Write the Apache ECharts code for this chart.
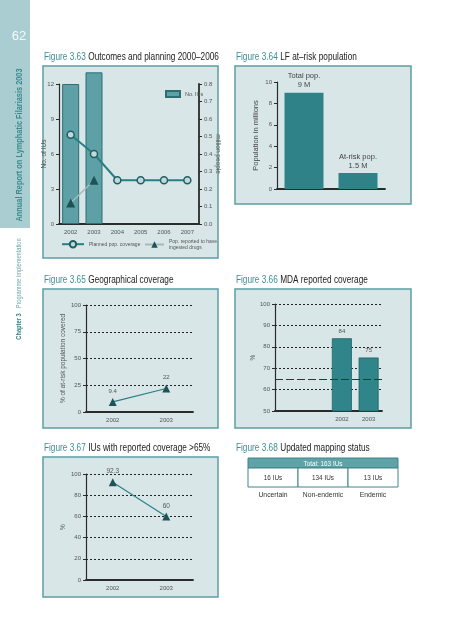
<!DOCTYPE html>
<html><head><meta charset="utf-8">
<script src="https://cdn.jsdelivr.net/npm/echarts@6/dist/echarts.min.js"></script>
<style>html,body{margin:0;padding:0;background:#fff;}#c{width:453px;height:640px;}</style>
</head><body><div id="c"></div>
<script>
// ---- data ----
const years63 = ['2002','2003','2004','2005','2006','2007'];
const iusBars = [12, 13, null, null, null, null];
const plannedCoverage = [0.51, 0.40, 0.25, 0.25, 0.25, 0.25];
const ingestedDrugs = [0.12, 0.25, null, null, null, null];

const cats64 = ['Total pop.', 'At-risk pop.'];
const pop64 = [9, 1.5];

const years65 = ['2002','2003'];
const geoCoverage = [9.4, 22];

const cats66 = ['', '', '2002', '2003'];
const mdaCoverage = [null, null, 84, 75];
const mdaTarget = 65;

const years67 = ['2002','2003'];
const ius65 = [92.3, 60];

const mappingTotal = 163;
const mappingCounts = [16, 134, 13];
const mappingLabels = ['Uncertain', 'Non-endemic', 'Endemic'];

// ---- styles ----
const FONT = "'Liberation Sans',sans-serif";
const TEAL = '#3a8e94', PANEL = '#d8e6e8', PBORDER = '#5c9ea3';
const AX = '#2b2b2b';
const tick = {fontSize: 6, color: '#555', fontFamily: FONT};

function panel(x, y, w, h) {
  return {type: 'rect', z: -5, shape: {x: x, y: y, width: w, height: h},
    style: {fill: PANEL, stroke: PBORDER, lineWidth: 1.5}};
}
function title(x, y, num, txt) {
  return {type: 'text', x: x, y: y, scaleX: 0.75, style: {
    text: '{a|' + num + '} {b|' + txt + '}',
    rich: {a: {fill: TEAL, fontSize: 11, fontFamily: FONT}, b: {fill: '#222', fontSize: 11, fontFamily: FONT}},
    textVerticalAlign: 'middle'}};
}

const graphics = [
  {type: 'rect', shape: {x: 0, y: 0, width: 30, height: 228}, style: {fill: '#a9cdd1'}},
  {type: 'text', x: 19, y: 36, style: {text: '62', fill: '#f4fafa', fontSize: 13, fontFamily: FONT, textAlign: 'center', textVerticalAlign: 'middle'}},
  {type: 'text', x: 20, y: 145, rotation: Math.PI / 2, scaleX: 0.82, style: {text: 'Annual Report on Lymphatic Filariasis 2003', fill: '#3a8a90', fontSize: 9, fontWeight: 'bold', fontFamily: FONT, textAlign: 'center', textVerticalAlign: 'middle'}},
  {type: 'text', x: 19, y: 289, rotation: Math.PI / 2, scaleX: 0.76, style: {text: '{a|Chapter 3}  {b|Programme implementation}',
    rich: {a: {fill: '#2f7f85', fontSize: 7.5, fontWeight: 'bold', fontFamily: FONT}, b: {fill: '#6aa9ae', fontSize: 7.5, fontFamily: FONT}},
    textAlign: 'center', textVerticalAlign: 'middle'}},
  panel(43, 66, 175, 192),
  panel(235, 66, 176, 138),
  panel(43, 289, 175, 139),
  panel(235, 289, 176, 139),
  panel(43, 457, 175, 140),
  title(44, 57, 'Figure 3.63', 'Outcomes and planning 2000\u20132006'),
  title(236, 57, 'Figure 3.64', 'LF at\u2013risk population'),
  title(44, 280, 'Figure 3.65', 'Geographical coverage'),
  title(236, 280, 'Figure 3.66', 'MDA reported coverage'),
  title(44, 448, 'Figure 3.67', 'IUs with reported coverage >65%'),
  title(236, 448, 'Figure 3.68', 'Updated mapping status')
];
// mapping table (Figure 3.68)
const tX = 248, tW = 150, tY = 458, hH = 10, rH = 19, cW = tW / mappingCounts.length;
function ctext(x, y, t, fill, size) {
  return {type: 'text', x: x, y: y, scaleX: 0.85, style: {text: t, fill: fill, fontSize: size, fontFamily: FONT, textAlign: 'center', textVerticalAlign: 'middle'}};
}
graphics.push({type: 'rect', shape: {x: tX, y: tY, width: tW, height: hH}, style: {fill: '#5fa2a7', stroke: '#3f8489', lineWidth: 1}});
graphics.push(ctext(tX + tW / 2, tY + hH / 2 + 0.5, 'Total: ' + mappingTotal + ' IUs', '#fff', 7.5));
mappingCounts.forEach((n, i) => {
  graphics.push({type: 'rect', shape: {x: tX + i * cW, y: tY + hH, width: cW, height: rH}, style: {fill: '#fff', stroke: '#3f8489', lineWidth: 1}});
  graphics.push(ctext(tX + i * cW + cW / 2, tY + hH + rH / 2, n + ' IUs', '#333', 7.5));
  graphics.push(ctext(tX + i * cW + cW / 2, tY + hH + rH + 8, mappingLabels[i], '#333', 8));
});

function xCat(grid, data, showLabels) {
  return {type: 'category', gridIndex: grid, data: data,
    axisLine: {lineStyle: {color: AX, width: 1.8}},
    axisTick: {inside: true, length: 3, lineStyle: {color: AX}},
    axisLabel: Object.assign({show: showLabels, margin: 5}, tick)};
}
function yVal(grid, min, max, interval, opts) {
  return Object.assign({type: 'value', gridIndex: grid, min: min, max: max, interval: interval,
    nameMoveOverlap: false,
    axisLine: {show: true, lineStyle: {color: AX, width: 1.2}},
    axisTick: {show: true, length: 3, lineStyle: {color: AX}},
    axisLabel: Object.assign({margin: 5}, tick),
    splitLine: {show: true, lineStyle: {color: '#222', type: [2, 2], width: 1}}}, opts || {});
}
const nameStyle = {fontSize: 6.5, color: '#555', fontFamily: FONT};

const option = {
  animation: false,
  graphic: {elements: graphics},
  grid: [
    {left: 59, top: 84, width: 140, height: 140},
    {left: 277, top: 82, width: 108, height: 107},
    {left: 86, top: 305, width: 107, height: 107},
    {left: 275, top: 304, width: 107, height: 107},
    {left: 86, top: 474, width: 107, height: 106}
  ],
  legend: [
    {data: ['No. IUs'], left: 160, top: 85, icon: 'rect', itemWidth: 14, itemHeight: 6, itemGap: 4, textStyle: {fontSize: 5.5, color: '#555', fontFamily: FONT}},
    {data: ['Planned pop. coverage'], left: 56, top: 235, itemWidth: 22, itemHeight: 8, itemGap: 4, textStyle: {fontSize: 5, color: '#555', fontFamily: FONT}},
    {data: ['Pop. reported to have\ningested drugs'], left: 139, top: 233, itemWidth: 19, itemHeight: 8, textStyle: {fontSize: 5, color: '#555', fontFamily: FONT, lineHeight: 6.5}}
  ],
  xAxis: [
    xCat(0, years63, true),
    xCat(1, cats64, false),
    xCat(2, years65, true),
    xCat(3, cats66, true),
    xCat(4, years67, true)
  ],
  yAxis: [
    yVal(0, 0, 12, 3, {splitLine: {show: false}, name: 'No. of IUs', nameLocation: 'middle', nameGap: 11, nameTextStyle: nameStyle}),
    yVal(0, 0, 0.8, 0.1, {position: 'right', splitLine: {show: false}, axisLine: {show: true, lineStyle: {color: AX, width: 1.8}},
      axisLabel: Object.assign({margin: 5, formatter: v => v.toFixed(1)}, tick),
      name: 'million people', nameLocation: 'middle', nameGap: 15, nameRotate: -90, nameTextStyle: nameStyle}),
    yVal(1, 0, 10, 2, {splitLine: {show: false}, name: 'Population in millions', nameLocation: 'middle', nameGap: 17, nameTextStyle: {fontSize: 7.5, color: '#444', fontFamily: FONT}}),
    yVal(2, 0, 100, 25, {name: '% of at-risk population covered', nameLocation: 'middle', nameGap: 19, nameTextStyle: nameStyle}),
    yVal(3, 50, 100, 10, {name: '%', nameLocation: 'middle', nameGap: 18, nameTextStyle: nameStyle}),
    yVal(4, 0, 100, 20, {name: '%', nameLocation: 'middle', nameGap: 19, nameTextStyle: nameStyle})
  ],
  series: [
    {name: 'No. IUs', type: 'bar', xAxisIndex: 0, yAxisIndex: 0, data: iusBars, barWidth: 17, clip: false,
      itemStyle: {color: '#5da0a5', borderColor: '#2e6f73', borderWidth: 1}},
    {name: 'Planned pop. coverage', type: 'line', xAxisIndex: 0, yAxisIndex: 1, data: plannedCoverage,
      symbol: 'circle', symbolSize: 7, lineStyle: {color: '#2a7f83', width: 2},
      itemStyle: {color: '#c3d8d9', borderColor: '#1f5f63', borderWidth: 1.5}, z: 4},
    {name: 'Pop. reported to have\ningested drugs', type: 'line', xAxisIndex: 0, yAxisIndex: 1, data: ingestedDrugs,
      symbol: 'triangle', symbolSize: 9, lineStyle: {color: '#a8b8ba', width: 1.5},
      itemStyle: {color: '#1d5356'}, z: 4},
    {name: 'pop64', type: 'bar', xAxisIndex: 1, yAxisIndex: 2, data: pop64, barWidth: 39,
      itemStyle: {color: '#2f8388'},
      label: {show: true, position: 'top', distance: 3, fontSize: 7.5, color: '#444', fontFamily: FONT, lineHeight: 9,
        formatter: p => cats64[p.dataIndex] + '\n' + p.value + ' M'}},
    {name: 'geo', type: 'line', xAxisIndex: 2, yAxisIndex: 3, data: geoCoverage,
      symbol: 'triangle', symbolSize: 8, lineStyle: {color: '#2a7f83', width: 1.2}, itemStyle: {color: '#1d5356'},
      label: {show: true, position: 'top', distance: 4, fontSize: 6, color: '#555', fontFamily: FONT}},
    {name: 'mda', type: 'bar', xAxisIndex: 3, yAxisIndex: 4, data: mdaCoverage, barWidth: 20,
      itemStyle: {color: '#2f8589', borderColor: '#1f6568', borderWidth: 0.8},
      label: {show: true, position: 'top', distance: 4, fontSize: 6, color: '#555', fontFamily: FONT},
      markLine: {silent: true, symbol: 'none', label: {show: false},
        lineStyle: {color: '#333', type: [8, 3], width: 1.2}, data: [{yAxis: mdaTarget}]}},
    {name: 'ius65', type: 'line', xAxisIndex: 4, yAxisIndex: 5, data: ius65,
      symbol: 'triangle', symbolSize: 8, lineStyle: {color: '#2a7f83', width: 1.2}, itemStyle: {color: '#1d5356'},
      label: {show: true, position: 'top', distance: 3, fontSize: 6.5, color: '#555', fontFamily: FONT}}
  ]
};
const chart = echarts.init(document.getElementById('c'), null, {renderer: 'canvas'});
chart.setOption(option);
</script></body></html>
